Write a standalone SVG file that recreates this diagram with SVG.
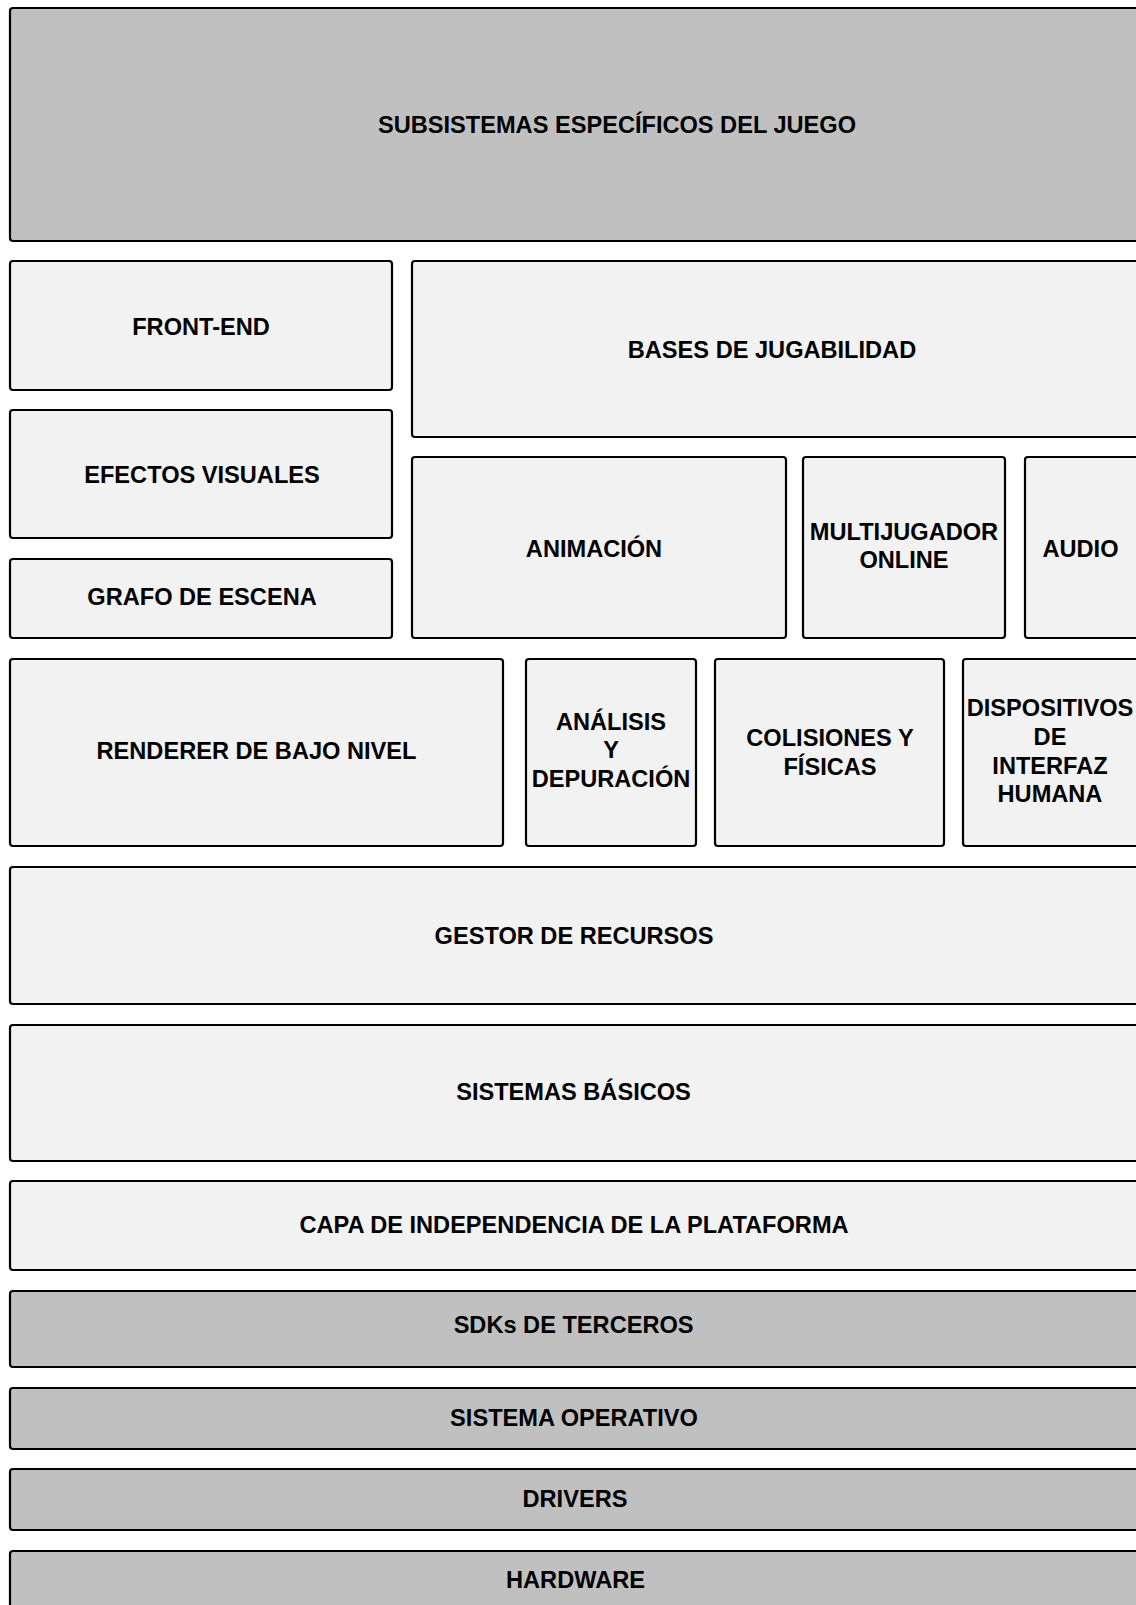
<svg xmlns="http://www.w3.org/2000/svg" width="1136" height="1605" viewBox="0 0 1136 1605">
  <style>
    .box { stroke: #000; stroke-width: 2.2; }
    .dark { fill: #c0c0c0; }
    .light { fill: #f2f2f2; }
    .lbl { font-family: "Liberation Sans", Arial, sans-serif; font-weight: bold; font-size: 23.6px; fill: #000; text-anchor: middle; }
  </style>
  <rect width="1136" height="1605" fill="#fff"/>

  <!-- game-specific layer -->
  <g id="subsistemas">
    <rect class="box dark" x="10" y="8" width="1214" height="233" rx="3"/>
    <text class="lbl" x="617" y="133">SUBSISTEMAS ESPECÍFICOS DEL JUEGO</text>
  </g>

  <!-- engine upper layers -->
  <g id="front-end">
    <rect class="box light" x="10" y="261" width="382" height="129" rx="3"/>
    <text class="lbl" x="201" y="334.5">FRONT-END</text>
  </g>
  <g id="bases-jugabilidad">
    <rect class="box light" x="412" y="261" width="728" height="176" rx="3"/>
    <text class="lbl" x="772" y="358">BASES DE JUGABILIDAD</text>
  </g>
  <g id="efectos-visuales">
    <rect class="box light" x="10" y="410" width="382" height="128" rx="3"/>
    <text class="lbl" x="202" y="483">EFECTOS VISUALES</text>
  </g>
  <g id="grafo-escena">
    <rect class="box light" x="10" y="559" width="382" height="79" rx="3"/>
    <text class="lbl" x="202" y="604.7">GRAFO DE ESCENA</text>
  </g>
  <g id="animacion">
    <rect class="box light" x="412" y="457" width="374" height="181" rx="3"/>
    <text class="lbl" x="594" y="556.5">ANIMACIÓN</text>
  </g>
  <g id="multijugador">
    <rect class="box light" x="803" y="457" width="202" height="181" rx="3"/>
    <text class="lbl" x="904" y="540.2">MULTIJUGADOR</text>
    <text class="lbl" x="904" y="567.8">ONLINE</text>
  </g>
  <g id="audio">
    <rect class="box light" x="1025" y="457" width="115" height="181" rx="3"/>
    <text class="lbl" x="1080.5" y="556.5">AUDIO</text>
  </g>

  <!-- core engine row -->
  <g id="renderer">
    <rect class="box light" x="10" y="659" width="493" height="187" rx="3"/>
    <text class="lbl" x="256.5" y="759.2">RENDERER DE BAJO NIVEL</text>
  </g>
  <g id="analisis">
    <rect class="box light" x="526" y="659" width="170" height="187" rx="3"/>
    <text class="lbl" x="611" y="729.5">ANÁLISIS</text>
    <text class="lbl" x="611" y="758.2">Y</text>
    <text class="lbl" x="611" y="786.8">DEPURACIÓN</text>
  </g>
  <g id="colisiones">
    <rect class="box light" x="715" y="659" width="229" height="187" rx="3"/>
    <text class="lbl" x="830" y="745.9">COLISIONES Y</text>
    <text class="lbl" x="830" y="774.5">FÍSICAS</text>
  </g>
  <g id="dispositivos">
    <rect class="box light" x="963" y="659" width="177" height="187" rx="3"/>
    <text class="lbl" x="1050" y="716.2">DISPOSITIVOS</text>
    <text class="lbl" x="1050" y="744.9">DE</text>
    <text class="lbl" x="1050" y="773.5">INTERFAZ</text>
    <text class="lbl" x="1050" y="802.2">HUMANA</text>
  </g>

  <!-- foundation layers -->
  <g id="gestor-recursos">
    <rect class="box light" x="10" y="867" width="1130" height="137" rx="3"/>
    <text class="lbl" x="574" y="944.4">GESTOR DE RECURSOS</text>
  </g>
  <g id="sistemas-basicos">
    <rect class="box light" x="10" y="1025" width="1130" height="136" rx="3"/>
    <text class="lbl" x="573.5" y="1100">SISTEMAS BÁSICOS</text>
  </g>
  <g id="capa-independencia">
    <rect class="box light" x="10" y="1181" width="1130" height="89" rx="3"/>
    <text class="lbl" x="574" y="1233">CAPA DE INDEPENDENCIA DE LA PLATAFORMA</text>
  </g>
  <g id="sdks">
    <rect class="box dark" x="10" y="1291" width="1130" height="76" rx="3"/>
    <text class="lbl" x="573.6" y="1333.3">SDKs DE TERCEROS</text>
  </g>
  <g id="sistema-operativo">
    <rect class="box dark" x="10" y="1388" width="1130" height="61" rx="3"/>
    <text class="lbl" x="574" y="1426.4">SISTEMA OPERATIVO</text>
  </g>
  <g id="drivers">
    <rect class="box dark" x="10" y="1469" width="1130" height="61" rx="3"/>
    <text class="lbl" x="575" y="1507.3">DRIVERS</text>
  </g>
  <g id="hardware">
    <rect class="box dark" x="10" y="1551" width="1130" height="62" rx="3"/>
    <text class="lbl" x="575.5" y="1588">HARDWARE</text>
  </g>

  <!-- layered stack: no connectors -->
  <g id="connectors"/>
</svg>
